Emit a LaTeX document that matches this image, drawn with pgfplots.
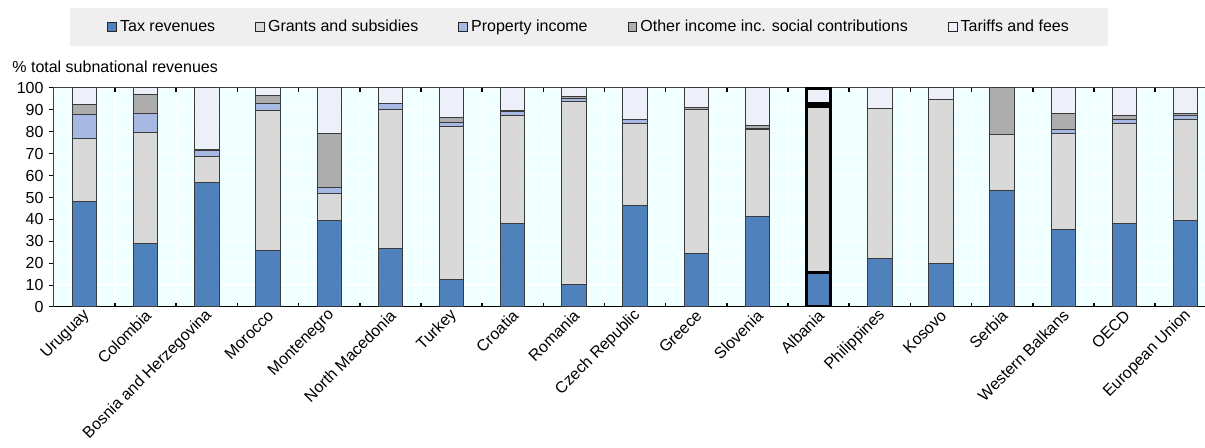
\documentclass[border=0pt]{standalone}
\usepackage{pgfplots}
\pgfplotsset{compat=1.18}
\usepackage{pgfplotstable}
\usepackage{fontspec}
\setmainfont{Liberation Sans}
\definecolor{ctax}{HTML}{4F81BD}
\definecolor{cgrant}{HTML}{D9D9D9}
\definecolor{cprop}{HTML}{A7B9E3}
\definecolor{cother}{HTML}{ADADAD}
\definecolor{ctariff}{HTML}{EDF0F8}
\definecolor{cbg}{HTML}{F0FFFF}
\definecolor{clegbg}{HTML}{EFEFEF}
\definecolor{cedge}{HTML}{3A3A3A}

\pgfplotstableread{
x tax grants prop other tariff
0 48.1 29.0 10.7 4.6 7.6
1 28.9 50.8 8.5 8.7 3.1
2 56.9 11.6 3.1 0.3 28.1
3 25.6 64.0 3.1 3.9 3.4
4 39.5 12.1 2.8 24.7 20.9
5 26.6 63.5 2.6 0.0 7.3
6 12.4 70.0 2.0 2.3 13.3
7 38.3 49.0 1.9 0.3 10.5
8 10.2 83.7 1.5 0.5 4.1
9 46.4 37.6 1.5 0.3 14.2
10 24.6 65.5 0.3 0.8 8.8
11 41.4 39.5 0.6 1.4 17.1
12 15.6 76.0 0.3 0.9 7.2
13 22.1 68.4 0.0 0.3 9.2
14 19.8 74.9 0.0 0.0 5.3
15 53.1 25.8 0.0 21.1 0.0
16 35.3 43.8 1.8 7.6 11.5
17 38.0 46.0 1.8 1.5 12.7
18 39.5 46.1 1.7 1.2 11.5
}\data

\pgfplotstableread{
x tax grants prop other tariff
12 15.6 76.0 0.3 0.9 7.2
}\albania

\begin{document}
\begin{tikzpicture}[font=\fontsize{8}{9.6}\selectfont]
\fill[clegbg] (8.05pt,130.65pt) rectangle (527.05pt,149.35pt);
\begin{axis}[
  at={(0pt,0pt)}, anchor=south west, scale only axis,
  width=581.2pt, height=109.5pt,
  xmin=-0.5, xmax=18.5, ymin=0, ymax=100,
  ybar stacked, bar width=12.2pt,
  axis background/.style={fill=cbg},
  axis line style={draw=black!75, line width=0.5pt},
  font=\fontsize{8}{9.6}\selectfont,
  /pgf/number format/assume math mode=true,
  xtick={0,...,18},
  xticklabels={Uruguay, Colombia, Bosnia and Herzegovina, Morocco, Montenegro, North Macedonia, Turkey, Croatia, Romania, Czech Republic, Greece, Slovenia, Albania, Philippines, Kosovo, Serbia, Western Balkans, OECD, European Union},
  xticklabel style={rotate=45, anchor=east, inner sep=1pt, yshift=-3pt},
  major x tick style={draw=none},
  minor xtick={0.5,1.5,...,17.5},
  minor x tick style={draw=black, line width=0.8pt},
  minor tick length=2.2pt,
  xtick align=inside,
  ytick={0,10,...,100},
  ytick align=outside,
  major tick length=2.5pt,
  y tick style={draw=black, line width=0.5pt},
  yticklabel style={inner sep=1pt, xshift=-1.5pt},
  xminorgrids=true, ymajorgrids=true,
  minor x grid style={white, line width=0.6pt},
  major y grid style={white, line width=0.6pt},
  every axis plot/.append style={draw=cedge, line width=0.5pt},
  legend columns=5,
  legend style={at={(0.4604,1.2785)}, anchor=center, draw=none, fill=none,
    font=\fontsize{8}{9.6}\selectfont,
    nodes={inner sep=1pt},
    /tikz/every odd column/.append style={column sep=0.5pt},
    /tikz/every even column/.append style={column sep=19pt}},
  legend image code/.code={\draw[#1, draw=black!85, line width=0.5pt] (0pt,-2.2pt) rectangle (4.4pt,2.2pt);},
]
\addplot[fill=ctax] table[x=x, y=tax] {\data};
\addplot[fill=cgrant] table[x=x, y=grants] {\data};
\addplot[fill=cprop] table[x=x, y=prop] {\data};
\addplot[fill=cother] table[x=x, y=other] {\data};
\addplot[fill=ctariff] table[x=x, y=tariff] {\data};
\legend{Tax revenues, Grants and subsidies, Property income, Other income inc. social contributions, Tariffs and fees}
\draw[black, line width=1pt] (rel axis cs:0,0) -- (rel axis cs:1,0);
\end{axis}
\begin{axis}[
  at={(0pt,0pt)}, anchor=south west, scale only axis,
  width=581.2pt, height=109.5pt,
  xmin=-0.5, xmax=18.5, ymin=0, ymax=100,
  ybar stacked, bar width=12.2pt, hide axis,
  every axis plot/.append style={draw=black, line width=1.6pt},
]
\addplot[fill=ctax] table[x=x, y=tax] {\albania};
\addplot[fill=cgrant] table[x=x, y=grants] {\albania};
\addplot[fill=cprop] table[x=x, y=prop] {\albania};
\addplot[fill=cother] table[x=x, y=other] {\albania};
\addplot[fill=ctariff] table[x=x, y=tariff] {\albania};
\end{axis}
\node[anchor=base west, inner sep=0pt] at (-20.95pt,117pt) {\% total subnational revenues};
\pgfresetboundingbox
\path (-26.95pt,-70.5pt) rectangle (575.55pt,153.5pt);
\end{tikzpicture}
\end{document}
